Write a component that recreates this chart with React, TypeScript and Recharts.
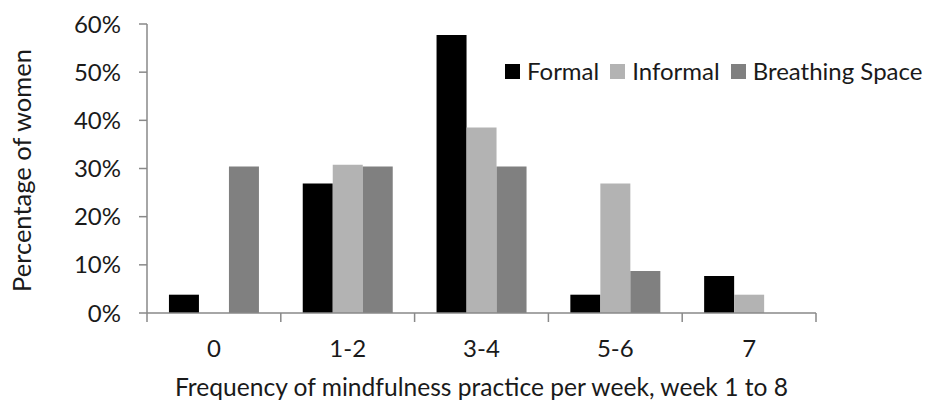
import React from "react";
import { BarChart, Bar, XAxis, YAxis, Legend } from "recharts";

const categories = ["0", "1-2", "3-4", "5-6", "7"];
const formal = [3.8, 26.9, 57.7, 3.8, 7.7];
const informal = [0, 30.8, 38.5, 26.9, 3.8];
const breathing = [30.4, 30.4, 30.4, 8.7, 0];
const yTicks = [0, 10, 20, 30, 40, 50, 60];
const seriesNames = ["Formal", "Informal", "Breathing Space"];
const seriesColors = ["#000000", "#b3b3b3", "#808080"];
const xTitle = "Frequency of mindfulness practice per week, week 1 to 8";
const yTitle = "Percentage of women";

const data = categories.map((c, i) => ({
  cat: c,
  formal: formal[i],
  informal: informal[i],
  breathing: breathing[i],
}));
const keys = ["formal", "informal", "breathing"];

const FONT = "Lato, 'Noto Sans', sans-serif";
const FS = 24;
const TEXT = "#1a1a1a";
const AXIS = "#898989";

const XTick = (props: any) => {
  const { x, y, payload, index } = props;
  const off = payload && typeof payload.offset === "number" ? payload.offset : 0;
  const last = index === categories.length - 1;
  return (
    <g>
      <line x1={x - off} x2={x - off} y1={y - 9} y2={y} stroke={AXIS} strokeWidth={1.5} />
      {last && <line x1={x + off} x2={x + off} y1={y - 9} y2={y} stroke={AXIS} strokeWidth={1.5} />}
      <text x={x} y={y + 35} textAnchor="middle" fontFamily={FONT} fontSize={FS} fill={TEXT}>
        {payload.value}
      </text>
    </g>
  );
};

const YTitle = (props: any) => {
  const vb = props.viewBox;
  const cx = vb.x + 31;
  const cy = vb.y + vb.height / 2 + 2;
  return (
    <text
      x={cx}
      y={cy}
      transform={`rotate(-90 ${cx} ${cy})`}
      textAnchor="middle"
      fontFamily={FONT}
      fontSize={25.5}
      fill={TEXT}
    >
      {yTitle}
    </text>
  );
};

const LegendContent = () => (
  <div style={{ display: "flex", alignItems: "center", fontFamily: FONT, fontSize: FS, color: TEXT, whiteSpace: "nowrap", lineHeight: "30px" }}>
    {seriesNames.map((n, i) => (
      <div key={n} style={{ display: "flex", alignItems: "center", marginRight: 11 }}>
        <span style={{ display: "inline-block", width: 15, height: 15, background: seriesColors[i], marginRight: 7 }} />
        <span>{n}</span>
      </div>
    ))}
  </div>
);

export default function App() {
  return (
    <div style={{ position: "absolute", left: 0, top: 0, background: "#fff" }}>
      <BarChart
        width={933}
        height={405}
        data={data}
        margin={{ top: 24, right: 117, bottom: 0, left: 0 }}
        barCategoryGap="16.4%"
        barGap={0}
      >
        <XAxis
          dataKey="cat"
          type="category"
          interval={0}
          height={92}
          tickSize={9}
          tickMargin={0}
          tickLine={false}
          axisLine={{ stroke: AXIS, strokeWidth: 1.5 }}
          tick={<XTick />}
          label={{ value: xTitle, position: "insideBottom", offset: 9, fontFamily: FONT, fontSize: 24.6, fill: TEXT }}
        />
        <YAxis
          width={147}
          domain={[0, 60]}
          ticks={yTicks}
          interval={0}
          tickFormatter={(v: number) => `${v}%`}
          tickSize={8}
          tickMargin={18}
          tick={{ fontFamily: FONT, fontSize: FS, fill: TEXT }}
          tickLine={{ stroke: AXIS, strokeWidth: 1.5 }}
          axisLine={{ stroke: AXIS, strokeWidth: 1.5 }}
          label={<YTitle />}
        />
        <Legend
          layout="horizontal"
          verticalAlign="middle"
          align="center"
          content={<LegendContent />}
          wrapperStyle={{ position: "absolute", top: 56, left: 505, width: "auto" }}
        />
        {keys.map((k, i) => (
          <Bar
            key={k}
            dataKey={k}
            name={seriesNames[i]}
            fill={seriesColors[i]}
            isAnimationActive={false}
          />
        ))}
      </BarChart>
    </div>
  );
}
